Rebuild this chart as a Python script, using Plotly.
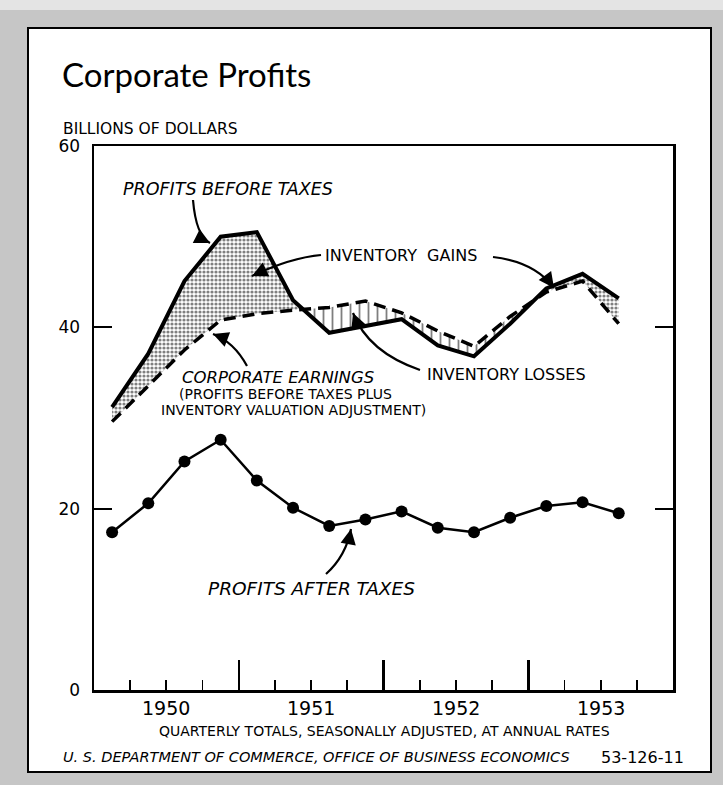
import plotly.graph_objects as go

# ---------------- data ----------------
quarters = ["1950 Q1", "1950 Q2", "1950 Q3", "1950 Q4",
            "1951 Q1", "1951 Q2", "1951 Q3", "1951 Q4",
            "1952 Q1", "1952 Q2", "1952 Q3", "1952 Q4",
            "1953 Q1", "1953 Q2", "1953 Q3"]
profits_before_taxes = [31.2, 37.1, 45.1, 50.0, 50.5, 43.0, 39.4, 40.2,
                        40.9, 38.0, 36.8, 40.4, 44.3, 45.9, 43.2]
corporate_earnings = [29.6, 33.6, 37.5, 40.8, 41.5, 41.9, 42.2, 42.9,
                      41.6, 39.6, 37.9, 41.2, 43.9, 45.1, 40.4]
profits_after_taxes = [17.4, 20.6, 25.2, 27.6, 23.1, 20.1, 18.1, 18.8,
                       19.7, 17.9, 17.4, 19.0, 20.3, 20.7, 19.5]
year_labels = ["1950", "1951", "1952", "1953"]
y_tick_values = [0, 20, 40, 60]
y_tick_text = ["0", "20", "40", "60"]


def qpos(label):
    yr, q = label.split(" Q")
    return int(yr) + (int(q) - 0.5) / 4


x = [qpos(q) for q in quarters]

# ---------------- geometry helpers (pixel -> coords) ----------------
W, H = 723, 785
L, R, T, B = 94, 673, 146, 690


def X(px):
    return 1950 + (px - L) / (R - L) * 4


def Y(py):
    return (B - py) / (B - T) * 60


def XP(px):
    return (px - L) / (R - L)


def YP(py):
    return (B - py) / (B - T)


def split_regions(xs, top, bot, sign):
    pts = []
    n = len(xs)
    for i in range(n):
        pts.append((xs[i], top[i], bot[i]))
        if i < n - 1:
            d0 = top[i] - bot[i]
            d1 = top[i + 1] - bot[i + 1]
            if d0 * d1 < 0:
                t = d0 / (d0 - d1)
                xc = xs[i] + t * (xs[i + 1] - xs[i])
                yc = top[i] + t * (top[i + 1] - top[i])
                pts.append((xc, yc, yc))
    polys, cur = [], []
    for p in pts:
        if sign * (p[1] - p[2]) >= -1e-9:
            cur.append(p)
        else:
            if len(cur) >= 2:
                polys.append(cur)
            cur = []
    if len(cur) >= 2:
        polys.append(cur)
    out = []
    for c in polys:
        px = [p[0] for p in c] + [p[0] for p in reversed(c)]
        py = [p[1] for p in c] + [p[2] for p in reversed(c)]
        out.append((px, py))
    return out


fig = go.Figure()

# inventory gains (stipple)
for px_, py_ in split_regions(x, profits_before_taxes, corporate_earnings, 1):
    fig.add_trace(go.Scatter(
        x=px_, y=py_, mode="lines", line=dict(width=0), fill="toself",
        fillcolor="rgba(0,0,0,0)",
        fillpattern=dict(shape=".", fgcolor="#000000", bgcolor="white",
                         size=4, solidity=0.5),
        hoverinfo="skip", showlegend=False))

# inventory losses (vertical hatch)
for px_, py_ in split_regions(x, profits_before_taxes, corporate_earnings, -1):
    fig.add_trace(go.Scatter(
        x=px_, y=py_, mode="lines", line=dict(width=0), fill="toself",
        fillcolor="rgba(0,0,0,0)",
        fillpattern=dict(shape="|", fgcolor="black", bgcolor="white",
                         size=9, solidity=0.2),
        hoverinfo="skip", showlegend=False))

fig.add_trace(go.Scatter(
    x=x, y=corporate_earnings, mode="lines",
    line=dict(color="black", width=3.5, dash="12px,7px"),
    showlegend=False, hoverinfo="skip"))

fig.add_trace(go.Scatter(
    x=x, y=profits_before_taxes, mode="lines",
    line=dict(color="black", width=4), showlegend=False, hoverinfo="skip"))

fig.add_trace(go.Scatter(
    x=x, y=profits_after_taxes, mode="lines+markers",
    line=dict(color="black", width=2.5),
    marker=dict(color="black", size=12), showlegend=False, hoverinfo="skip"))

# ---------------- annotations ----------------
FONT = "DejaVu Sans"
anns = []


def text(t, px, py, size, italic=False, xanchor="left", family=FONT):
    anns.append(dict(text=t, x=XP(px), y=YP(py), xref="paper", yref="paper",
                     xanchor=xanchor, yanchor="middle", showarrow=False,
                     font=dict(family=family, size=size, color="black",
                               style="italic" if italic else "normal")))


text("Corporate Profits", 60, 74, 33, family="Lato")
text("BILLIONS OF DOLLARS", 61, 129, 15.5)
text("PROFITS BEFORE TAXES", 121, 189, 17.5, italic=True)
text("INVENTORY  GAINS", 323, 256, 16)
text("INVENTORY LOSSES", 425, 374, 16)
text("CORPORATE EARNINGS", 278, 377, 16.5, italic=True, xanchor="center")
text("(PROFITS BEFORE TAXES PLUS", 285, 394, 14, xanchor="center")
text("INVENTORY VALUATION ADJUSTMENT)", 293, 410, 14, xanchor="center")
text("PROFITS AFTER TAXES", 311, 588, 18.5, italic=True, xanchor="center")
text("QUARTERLY TOTALS, SEASONALLY ADJUSTED, AT ANNUAL RATES", 384, 731, 14,
     xanchor="center")
text("U. S. DEPARTMENT OF COMMERCE, OFFICE OF BUSINESS ECONOMICS", 61, 757, 14.5,
     italic=True)
text("53-126-11", 686, 757, 16, xanchor="right")

for i, lab in enumerate(year_labels):
    anns.append(dict(text=lab, x=int(lab) + 0.5, y=YP(708), xref="x", yref="paper",
                     xanchor="center", yanchor="middle", showarrow=False,
                     font=dict(family=FONT, size=19, color="black")))

# curved arrows: (tail, control, head)
arrows = [
    ((193, 200), (196, 236), (210, 243)),
    ((321, 255), (290, 258), (252, 276)),
    ((493, 257), (535, 262), (554, 288)),
    ((247, 366), (234, 342), (213, 334)),
    ((420, 370), (368, 352), (353, 313)),
    ((326, 574), (346, 556), (351, 529)),
]
shapes = []
for (x0, y0), (cx, cy), (x1, y1) in arrows:
    shapes.append(dict(type="path", xref="x", yref="y",
                       path=f"M {X(x0)},{Y(y0)} Q {X(cx)},{Y(cy)} {X(x1)},{Y(y1)}",
                       line=dict(color="black", width=2.2)))
    dx, dy = cx - x1, cy - y1
    n = (dx * dx + dy * dy) ** 0.5
    anns.append(dict(text="", x=X(x1), y=Y(y1), xref="x", yref="y",
                     ax=dx / n * 10, ay=dy / n * 10, axref="pixel", ayref="pixel",
                     showarrow=True, arrowhead=2, arrowsize=1.4, arrowwidth=2.2,
                     arrowcolor="black", standoff=0))

# page frame
shapes.insert(0, dict(type="rect", xref="paper", yref="paper",
                      x0=XP(28), x1=XP(711), y0=YP(772), y1=YP(28),
                      fillcolor="white", line=dict(color="black", width=2),
                      layer="below"))
shapes.insert(0, dict(type="rect", xref="paper", yref="paper",
                      x0=XP(0), x1=XP(723), y0=YP(10), y1=YP(0),
                      fillcolor="#e4e4e4", line=dict(width=0),
                      layer="below"))

quarter_ticks = [1950 + k / 4 for k in range(1, 16) if k % 4 != 0]

fig.update_layout(
    width=W, height=H,
    margin=dict(l=L, r=W - R, t=T, b=H - B, pad=0),
    paper_bgcolor="#c6c6c6",
    plot_bgcolor="white",
    font=dict(family=FONT, color="black"),
    showlegend=False,
    annotations=anns,
    shapes=shapes,
    xaxis=dict(range=[1950, 1954], showgrid=False, zeroline=False,
               showline=True, linecolor="black", linewidth=2.5, mirror=True,
               tickmode="array", tickvals=[1951, 1952, 1953],
               ticks="inside", ticklen=30, tickwidth=2.5, tickcolor="black",
               showticklabels=False,
               minor=dict(tickmode="array", tickvals=quarter_ticks,
                          ticks="inside", ticklen=10, tickwidth=1.8,
                          tickcolor="black")),
    yaxis=dict(range=[0, 60], showgrid=False, zeroline=False,
               showline=True, linecolor="black", linewidth=2.5, mirror="ticks",
               tickmode="array", tickvals=y_tick_values, ticktext=y_tick_text,
               ticks="inside", ticklen=18, tickwidth=2, tickcolor="black",
               ticklabelstandoff=8,
               tickfont=dict(family=FONT, size=17, color="black")),
)

fig.write_html("out.html",
               config={"displayModeBar": False, "staticPlot": True},
               post_script="document.body.style.margin='0';"
                           "document.body.style.overflow='hidden';")
